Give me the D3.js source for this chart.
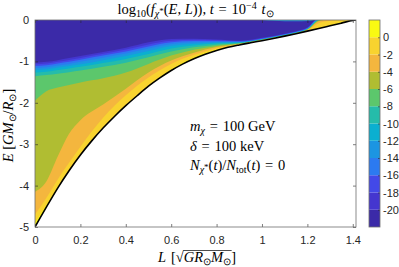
<!DOCTYPE html>
<html>
<head>
<meta charset="utf-8">
<script src="https://cdn.jsdelivr.net/npm/d3@7"></script>
<style>
  body { margin: 0; background: #fff; }
  svg { display: block; }
  .tick text { font-family: "Liberation Sans", Arial, sans-serif; font-size: 11px; fill: #262626; }
  .tick line { stroke: #262626; stroke-width: 0.6; }
  .math { font-family: "Liberation Serif", "Times New Roman", serif; fill: #000; }
</style>
</head>
<body>
<svg id="chart" width="399" height="267"></svg>
<script>
// colour bands of the filled contour, from [-22,-20] up to [0,2]
const bandEdges = [-22, -20, -18, -16, -14, -12, -10, -8, -6, -4, -2, 0, 2];
const bandColors = ['#3b2aa8', '#4436cf', '#4349e8', '#2c7af0', '#1c95e2', '#0bafd0',
                    '#25bcaa', '#5cc76c', '#b0bd32', '#f4b63e', '#f8d32f', '#f9fa12'];

const xTicks = [0, 0.2, 0.4, 0.6, 0.8, 1, 1.2, 1.4];
const yTicks = [0, -1, -2, -3, -4, -5];
const cbTicks = [0, -2, -4, -6, -8, -10, -12, -14, -16, -18, -20];

// L columns where the contour levels were read
const colL = [0, 0.05, 0.1, 0.15, 0.2, 0.3, 0.4, 0.5, 0.6, 0.7, 0.8, 0.9, 1.0, 1.1, 1.15, 1.2, 1.25, 1.3, 1.35, 1.4142];

// contour levels and the E at which each level sits in every column
const levels = [-20, -18, -16, -14, -12, -10, -8, -6, -4, -2, 0];
const levelE = [
  [-1.03, -1.01, -0.97, -0.92, -0.87, -0.77, -0.67, -0.54, -0.46, -0.45, -0.47, -0.50, -0.43, -0.33, -0.27, -0.18, 0.05, 0.05, 0.05, 0.05],
  [-1.07, -1.05, -1.01, -0.965, -0.915, -0.815, -0.715, -0.59, -0.50, -0.48, -0.49, -0.51, -0.44, -0.34, -0.28, -0.19, 0.05, 0.05, 0.05, 0.05],
  [-1.11, -1.09, -1.05, -1.01, -0.96, -0.86, -0.76, -0.64, -0.54, -0.51, -0.51, -0.52, -0.45, -0.345, -0.285, -0.20, 0.04, 0.05, 0.05, 0.05],
  [-1.16, -1.14, -1.10, -1.06, -1.01, -0.91, -0.81, -0.69, -0.58, -0.54, -0.53, -0.53, -0.455, -0.35, -0.29, -0.205, 0.03, 0.05, 0.05, 0.05],
  [-1.21, -1.19, -1.15, -1.11, -1.07, -0.97, -0.87, -0.75, -0.63, -0.575, -0.55, -0.54, -0.46, -0.355, -0.295, -0.21, 0.02, 0.05, 0.05, 0.05],
  [-1.27, -1.25, -1.21, -1.17, -1.13, -1.04, -0.94, -0.82, -0.69, -0.615, -0.57, -0.55, -0.465, -0.36, -0.30, -0.215, 0.01, 0.05, 0.05, 0.05],
  [-1.36, -1.33, -1.30, -1.26, -1.22, -1.13, -1.03, -0.90, -0.76, -0.66, -0.595, -0.56, -0.47, -0.365, -0.305, -0.22, 0.0, 0.05, 0.05, 0.05],
  [-1.95, -1.72, -1.63, -1.57, -1.51, -1.41, -1.27, -1.06, -0.86, -0.72, -0.625, -0.57, -0.475, -0.37, -0.31, -0.23, -0.01, 0.04, 0.05, 0.05],
  [-4.15, -3.90, -3.30, -2.75, -2.42, -2.04, -1.66, -1.27, -0.98, -0.79, -0.655, -0.578, -0.48, -0.375, -0.315, -0.24, -0.03, 0.02, 0.04, 0.05],
  [-4.70, -4.30, -3.85, -3.45, -3.06, -2.36, -1.82, -1.39, -1.06, -0.84, -0.68, -0.585, -0.487, -0.38, -0.32, -0.25, -0.08, -0.02, 0.0, 0.02],
  [-4.90, -4.47, -4.04, -3.66, -3.28, -2.63, -2.09, -1.59, -1.19, -0.905, -0.715, -0.595, -0.495, -0.386, -0.326, -0.26, -0.19, -0.12, -0.05, 0]
];

// thin non-purple strip along the top edge near L ~ 1.1
const capL = [1.0, 1.05, 1.1, 1.15, 1.2, 1.23];
const capE = [0, -0.02, -0.03, -0.03, -0.025, 0];

// lower edge of the allowed region (no orbits below it)
const edgeL = [0, 0.05, 0.1, 0.15, 0.2, 0.25, 0.3, 0.35, 0.4, 0.45, 0.5, 0.55, 0.6, 0.65, 0.7, 0.75,
               0.8, 0.85, 0.9, 0.95, 1.0, 1.05, 1.1, 1.15, 1.2, 1.25, 1.3, 1.35, 1.4, 1.4142];
const edgeE = [-5, -4.52, -4.06, -3.64, -3.26, -2.92, -2.61, -2.33, -2.07, -1.83, -1.60, -1.40, -1.22, -1.065, -0.935, -0.825,
               -0.735, -0.66, -0.602, -0.55, -0.5, -0.447, -0.39, -0.33, -0.268, -0.205, -0.14, -0.075, -0.01, 0];

const plot = { left: 35, right: 356, top: 20, bottom: 227 };
const cb = { left: 369, right: 380 };

const svg = d3.select('#chart');
const x = d3.scaleLinear().domain([0, 1.4142]).range([plot.left, plot.right]);
const y = d3.scaleLinear().domain([-5, 0]).range([plot.bottom, plot.top]);
const cy = d3.scaleLinear().domain([-22, 2]).range([plot.bottom, plot.top]);

svg.append('defs').append('clipPath').attr('id', 'clip')
  .append('rect')
  .attr('x', plot.left).attr('y', plot.top)
  .attr('width', plot.right - plot.left).attr('height', plot.bottom - plot.top);

const field = svg.append('g').attr('clip-path', 'url(#clip)');

field.append('rect')
  .attr('x', plot.left).attr('y', plot.top)
  .attr('width', plot.right - plot.left).attr('height', plot.bottom - plot.top)
  .attr('fill', bandColors[11]);

// region above each level has values below it: paint from the top level down
const above = d3.area()
  .x((d, i) => x(colL[i]))
  .y0(y(0) - 5)
  .y1(d => y(d))
  .curve(d3.curveMonotoneX);

for (let k = levels.length - 1; k >= 0; k--) {
  field.append('path')
    .attr('d', above(levelE[k]))
    .attr('fill', bandColors[k]);
}

field.append('path')
  .attr('d', d3.area()
    .x((d, i) => x(capL[i]))
    .y0(y(0) - 5)
    .y1(d => y(d))
    .curve(d3.curveMonotoneX)(capE))
  .attr('fill', bandColors[4]);

const edgeArea = d3.area()
  .x((d, i) => x(edgeL[i]))
  .y0(plot.bottom + 5)
  .y1(d => y(d))
  .curve(d3.curveMonotoneX);

field.append('path').attr('d', edgeArea(edgeE)).attr('fill', '#fff');

field.append('path')
  .attr('d', d3.line().x((d, i) => x(edgeL[i])).y(d => y(d)).curve(d3.curveMonotoneX)(edgeE))
  .attr('fill', 'none')
  .attr('stroke', '#000')
  .attr('stroke-width', 1.6);

// axes box with inward ticks on all four sides
const fmt = d => String(d);
svg.append('g').attr('transform', `translate(0,${plot.bottom})`)
  .call(d3.axisBottom(x).tickValues(xTicks).tickFormat(fmt).tickSize(-3).tickPadding(9))
  .call(g => g.select('.domain').remove());
svg.append('g').attr('transform', `translate(0,${plot.top})`)
  .call(d3.axisTop(x).tickValues(xTicks).tickFormat('').tickSize(-3))
  .call(g => g.select('.domain').remove());
svg.append('g').attr('transform', `translate(${plot.left},0)`)
  .call(d3.axisLeft(y).tickValues(yTicks).tickFormat(fmt).tickSize(-3).tickPadding(6))
  .call(g => g.select('.domain').remove());
svg.append('g').attr('transform', `translate(${plot.right},0)`)
  .call(d3.axisRight(y).tickValues(yTicks).tickFormat('').tickSize(-3))
  .call(g => g.select('.domain').remove());

svg.append('rect')
  .attr('x', plot.left).attr('y', plot.top)
  .attr('width', plot.right - plot.left).attr('height', plot.bottom - plot.top)
  .attr('fill', 'none').attr('stroke', '#6e6e6e').attr('stroke-width', 0.8);

// colorbar
svg.append('g').selectAll('rect')
  .data(bandColors)
  .join('rect')
  .attr('x', cb.left)
  .attr('width', cb.right - cb.left)
  .attr('y', (d, i) => cy(bandEdges[i + 1]))
  .attr('height', (d, i) => cy(bandEdges[i]) - cy(bandEdges[i + 1]))
  .attr('fill', d => d);

svg.append('g').attr('transform', `translate(${cb.right},0)`)
  .call(d3.axisRight(cy).tickValues(cbTicks).tickFormat(fmt).tickSize(-2).tickPadding(3))
  .call(g => g.select('.domain').remove());

svg.append('rect')
  .attr('x', cb.left).attr('y', plot.top)
  .attr('width', cb.right - cb.left).attr('height', plot.bottom - plot.top)
  .attr('fill', 'none').attr('stroke', '#6e6e6e').attr('stroke-width', 0.8);

// LaTeX-like text built from tspans
const EQ = '\u2004=\u2004';
function mathText(text, parts) {
  let cur = 0;
  parts.forEach(p => {
    const sh = p.sh || 0;
    const ts = text.append('tspan').text(p.t).attr('dy', sh - cur);
    cur = sh;
    if (p.i) ts.attr('font-style', 'italic');
    if (p.fs) ts.attr('font-size', p.fs);
    if (p.id) ts.attr('class', p.id);
  });
  return text;
}

mathText(svg.append('text').attr('class', 'math')
  .attr('x', (plot.left + plot.right) / 2).attr('y', 14)
  .attr('text-anchor', 'middle').attr('font-size', 14.5), [
  { t: 'log' }, { t: '10', sh: 3, fs: 10 }, { t: '(' }, { t: 'f', i: 1 },
  { t: 'χ', i: 1, sh: 3, fs: 10 }, { t: '*', sh: 0, fs: 9 },
  { t: '(' }, { t: 'E', i: 1 }, { t: ', ' }, { t: 'L', i: 1 }, { t: ')), ' },
  { t: 't', i: 1 }, { t: EQ + '10' }, { t: '−4', sh: -5.5, fs: 10 }, { t: '\u2004' },
  { t: 't', i: 1 }, { t: '⊙', sh: 3, fs: 10 }
]);

mathText(svg.append('text').attr('class', 'math')
  .attr('transform', `translate(13,${(plot.top + plot.bottom) / 2 + 2}) rotate(-90)`)
  .attr('text-anchor', 'middle').attr('font-size', 14.5), [
  { t: 'E', i: 1 }, { t: ' [' }, { t: 'GM', i: 1 }, { t: '⊙', sh: 3, fs: 10 },
  { t: '/' }, { t: 'R', i: 1 }, { t: '⊙', sh: 3, fs: 10 }, { t: ']' }
]);

const xl = mathText(svg.append('text').attr('class', 'math')
  .attr('x', 197).attr('y', 262)
  .attr('text-anchor', 'middle').attr('font-size', 14.5), [
  { t: 'L', i: 1 }, { t: '\u2004[' }, { t: '√' }, { t: 'GR', i: 1, id: 'rad0' }, { t: '⊙', sh: 3, fs: 10 },
  { t: 'M', i: 1 }, { t: '⊙', sh: 3, fs: 10, id: 'rad1' }, { t: ']' }
]);
const r0 = xl.select('.rad0').node().getBBox();
const r1 = xl.select('.rad1').node().getBBox();
svg.append('line')
  .attr('x1', r0.x - 0.5).attr('x2', r1.x + r1.width + 0.5)
  .attr('y1', r0.y + 1.5).attr('y2', r0.y + 1.5)
  .attr('stroke', '#000').attr('stroke-width', 0.7);

const note = [
  [{ t: 'm', i: 1 }, { t: 'χ', i: 1, sh: 3, fs: 10 }, { t: EQ + '100 GeV' }],
  [{ t: 'δ', i: 1 }, { t: EQ + '100 keV' }],
  [{ t: 'N', i: 1 }, { t: 'χ', i: 1, sh: 3, fs: 10 }, { t: '*', sh: 0, fs: 9 }, { t: '(' }, { t: 't', i: 1 },
   { t: ')/' }, { t: 'N', i: 1 }, { t: 'tot', sh: 3, fs: 10 }, { t: '(' }, { t: 't', i: 1 }, { t: ')' + EQ + '0' }]
];
note.forEach((parts, i) => {
  mathText(svg.append('text').attr('class', 'math')
    .attr('x', 190).attr('y', 131 + i * 19.5).attr('font-size', 14.5), parts);
});
</script>
</body>
</html>
